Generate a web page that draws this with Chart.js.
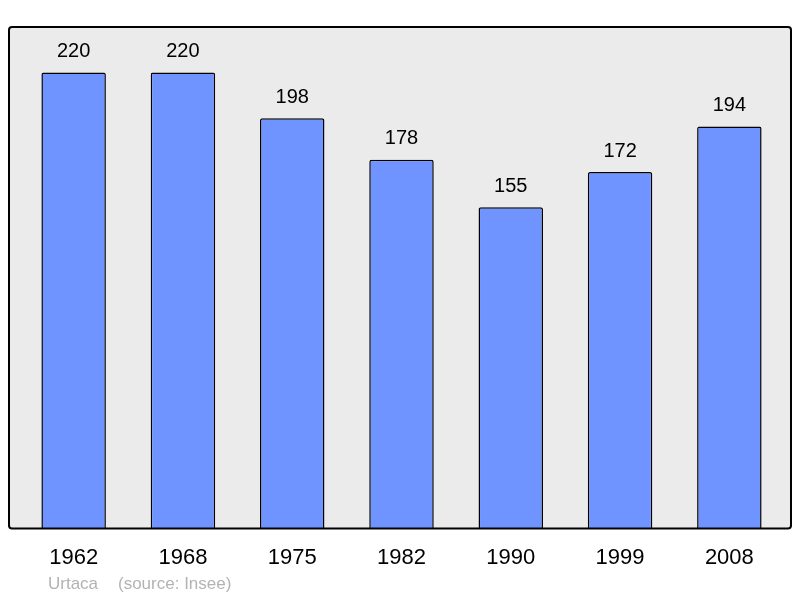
<!DOCTYPE html>
<html>
<head>
<meta charset="utf-8">
<script src="https://cdn.jsdelivr.net/npm/chart.js@4"></script>
<style>
  html, body { margin: 0; padding: 0; background: #fff; }
  #wrap { width: 800px; height: 598px; }
</style>
</head>
<body>
<div id="wrap"><canvas id="grafica"></canvas></div>
<script>
const annees = ['1962', '1968', '1975', '1982', '1990', '1999', '2008'];
const population = [220, 220, 198, 178, 155, 172, 194];
const commune = 'Urtaca';
const source = '(source: Insee)';

// fond gris du cadre
const fondCadre = {
  id: 'fondCadre',
  beforeDraw(chart) {
    const { ctx, chartArea } = chart;
    const x = chartArea.left - 10, y = chartArea.top;
    const w = chartArea.right + 7 - x, h = chartArea.bottom - y;
    ctx.save();
    ctx.beginPath();
    ctx.roundRect(x, y, w, h, 3);
    ctx.fillStyle = '#ebebeb';
    ctx.fill();
    ctx.restore();
  },
  afterDatasetsDraw(chart) {
    const { ctx, chartArea } = chart;
    const x = chartArea.left - 10, y = chartArea.top;
    const w = chartArea.right + 7 - x, h = chartArea.bottom - y;
    ctx.save();
    ctx.beginPath();
    ctx.roundRect(x, y, w, h, 3);
    ctx.lineWidth = 2;
    ctx.strokeStyle = '#000';
    ctx.stroke();
    ctx.restore();
  }
};

// valeurs au-dessus des barres + pied de page
const etiquettes = {
  id: 'etiquettes',
  afterDraw(chart) {
    const { ctx } = chart;
    const meta = chart.getDatasetMeta(0);
    ctx.save();
    ctx.font = '20px "Liberation Sans", Arial, sans-serif';
    ctx.fillStyle = '#000';
    ctx.textAlign = 'center';
    ctx.textBaseline = 'middle';
    meta.data.forEach((bar, i) => {
      ctx.fillText(String(population[i]), bar.x, bar.y - 21);
    });
    ctx.font = '17px "Liberation Sans", Arial, sans-serif';
    ctx.fillStyle = '#b3b3b3';
    ctx.textAlign = 'left';
    ctx.fillText(commune, 48, 584);
    ctx.fillText(source, 118, 584);
    ctx.restore();
  }
};

new Chart(document.getElementById('grafica'), {
  type: 'bar',
  data: {
    labels: annees,
    datasets: [{
      data: population,
      backgroundColor: '#7094ff',
      borderColor: '#000',
      borderWidth: 1.5,
      borderRadius: 2,
      borderSkipped: 'bottom',
      barPercentage: 0.59,
      categoryPercentage: 1
    }]
  },
  options: {
    responsive: true,
    maintainAspectRatio: false,
    animation: false,
    layout: { padding: { left: 19, right: 16, top: 27, bottom: 11 } },
    plugins: {
      legend: { display: false },
      tooltip: { enabled: false }
    },
    scales: {
      x: {
        grid: { display: false, drawTicks: false },
        border: { display: false },
        ticks: {
          color: '#000',
          padding: 16,
          font: { family: '"Liberation Sans", Arial, sans-serif', size: 22 }
        }
      },
      y: {
        display: false,
        min: 0,
        max: 242
      }
    }
  },
  plugins: [fondCadre, etiquettes]
});
</script>
</body>
</html>
